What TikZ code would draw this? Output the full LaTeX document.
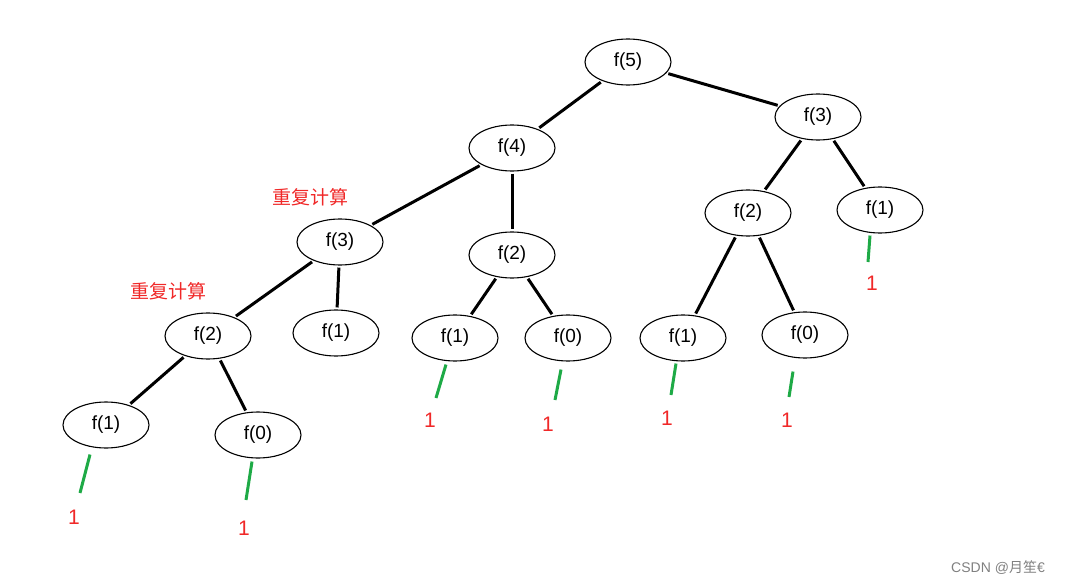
\documentclass[tikz,border=0pt]{standalone}
\usepackage{fontspec}
\usetikzlibrary{shapes.geometric}
\setmainfont{Liberation Sans}
\newfontfamily\cjk{Noto Sans CJK SC}
\begin{document}
\begin{tikzpicture}[x=1pt,y=-1pt,
  nd/.style={draw,line width=1.1pt,ellipse,minimum width=86pt,minimum height=46pt,inner sep=0pt,font=\fontsize{19}{19}\selectfont},
  ed/.style={line width=3pt},
  gr/.style={line width=3pt,draw={rgb,255:red,30;green,170;blue,70}},
  one/.style={text={rgb,255:red,240;green,40;blue,40},font=\fontsize{21}{21}\selectfont},
  rep/.style={text={rgb,255:red,240;green,40;blue,40},font=\cjk\fontsize{19}{19}\selectfont}]
\useasboundingbox (0,0) rectangle (1078,588);
\node[nd] (f5) at (628,62) {f(5)};
\node[nd] (f3a) at (818,117) {f(3)};
\node[nd] (f4) at (512,148) {f(4)};
\node[nd] (f2r) at (748,213) {f(2)};
\node[nd] (f1r) at (880,210) {f(1)};
\node[nd] (f3) at (340,242) {f(3)};
\node[nd] (f2m) at (512,255) {f(2)};
\node[nd] (f2l) at (208,336) {f(2)};
\node[nd] (f1a) at (336,333) {f(1)};
\node[nd] (f1b) at (455,338) {f(1)};
\node[nd] (f0b) at (568,338) {f(0)};
\node[nd] (f1c) at (683,338) {f(1)};
\node[nd] (f0c) at (805,335) {f(0)};
\node[nd] (f1d) at (106,425) {f(1)};
\node[nd] (f0d) at (258,435) {f(0)};
\foreach \a/\b in {f5/f4,f5/f3a,f4/f3,f4/f2m,f3a/f2r,f3a/f1r,f3/f2l,f3/f1a,f2m/f1b,f2m/f0b,f2r/f1c,f2r/f0c,f2l/f1d,f2l/f0d}
  \draw[ed,shorten <=2pt,shorten >=2pt] (\a) -- (\b);
\coordinate (g1) at (868,262); \draw[gr] (f1r.south) ++(-10,2) -- (g1);
\coordinate (g2) at (436,398); \draw[gr] (f1b.south) ++(-9,3) -- (g2);
\coordinate (g3) at (555,400); \draw[gr] (f0b.south) ++(-7,8) -- (g3);
\coordinate (g4) at (671,395); \draw[gr] (f1c.south) ++(-7,2) -- (g4);
\coordinate (g5) at (789,397); \draw[gr] (f0c.south) ++(-12,13) -- (g5);
\coordinate (g6) at (80,493); \draw[gr] (f1d.south) ++(-16,6) -- (g6);
\coordinate (g7) at (246,500); \draw[gr] (f0d.south) ++(-6,3) -- (g7);
\node[one] (o1) at (872,283) {1};
\node[one] (o2) at (430,420) {1};
\node[one] (o3) at (548,424) {1};
\node[one] (o4) at (667,418) {1};
\node[one] (o5) at (787,420) {1};
\node[one] (o6) at (74,517) {1};
\node[one] (o7) at (244,528) {1};
\node[rep] (r1) at (310,197) {重复计算};
\node[rep] (r2) at (168,291) {重复计算};
\node[text=gray,font=\fontsize{14}{14}\selectfont] (wm) at (998,568) {CSDN @\cjk 月笙\rmfamily €};
\end{tikzpicture}
\end{document}
